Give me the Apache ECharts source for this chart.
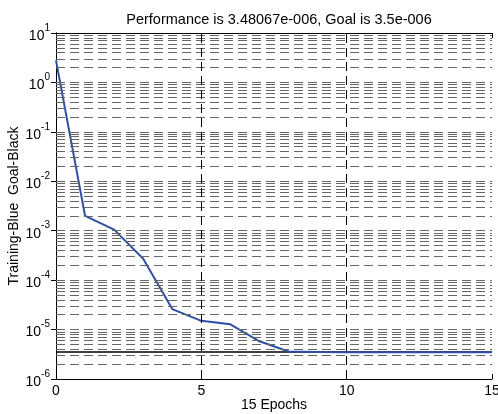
<!DOCTYPE html>
<html>
<head>
<meta charset="utf-8">
<script src="https://cdn.jsdelivr.net/npm/echarts@6/dist/echarts.min.js"></script>
<style>
    html, body { margin: 0; padding: 0; background: #fff; }
    #main { width: 498px; height: 414px; }
</style>
</head>
<body>
<div id="main"></div>
<script>
// data
let epochs = [0, 1, 2, 3, 4, 5, 6, 7, 8, 9, 10, 11, 12, 13, 14, 15];
let perf = [2.8, 2.0e-3, 1.05e-3, 2.7e-4, 2.6e-5, 1.5e-5, 1.28e-5, 5.8e-6, 3.6e-6, 3.5e-6, 3.49e-6, 3.49e-6, 3.485e-6, 3.483e-6, 3.482e-6, 3.48067e-6];
let goal = 3.5e-6;
let xTicks = [0, 5, 10, 15];
let yExponents = [-6, -5, -4, -3, -2, -1, 0, 1];

var chartDom = document.getElementById('main');
var myChart = echarts.init(chartDom);

// dashed grid at 1..9 x 10^k
let gridVals = [];
for (let e = -6; e < 1; e++) {
    for (let k = 1; k <= 9; k++) {
        let v = k * Math.pow(10, e);
        if (v > 1e-6) gridVals.push(v);
    }
}
let gridLines = gridVals.map(function (v) {
    return [{ coord: [0, v] }, { coord: [15, v] }];
});
let vLines = xTicks.slice(1, -1).map(function (x) {
    return { xAxis: x };
});

let font = 'Liberation Sans, Arial, sans-serif';
let line = { show: true, lineStyle: { color: '#000', width: 1 } };

let option = {
    animation: false,
    textStyle: { fontFamily: font },
    title: {
        text: 'Performance is 3.48067e-006, Goal is 3.5e-006',
        left: 274,
        top: 7,
        textAlign: 'center',
        textStyle: { fontSize: 14.5, fontWeight: 'normal', color: '#000', fontFamily: font }
    },
    grid: { left: 56, top: 33, right: 6, bottom: 35, outerBoundsMode: 'none', containLabel: false },
    xAxis: [{
        type: 'value',
        min: 0,
        max: 15,
        interval: 5,
        name: '15 Epochs',
        nameLocation: 'middle',
        nameGap: 19,
        nameMoveOverlap: false,
        nameTextStyle: { fontSize: 14, color: '#000' },
        axisLine: line,
        axisTick: { inside: true, length: 5, lineStyle: { color: '#000' } },
        axisLabel: { fontSize: 14, color: '#000', margin: 5 },
        splitLine: { show: false }
    }, {
        type: 'value',
        position: 'top',
        min: 0,
        max: 15,
        interval: 5,
        axisLine: line,
        axisTick: { inside: true, length: 5, lineStyle: { color: '#000' } },
        axisLabel: { show: false },
        splitLine: { show: false }
    }],
    yAxis: [{
        type: 'log',
        logBase: 10,
        min: 1e-6,
        max: 10,
        splitNumber: 7,
        name: 'Training-Blue  Goal-Black',
        nameLocation: 'middle',
        nameGap: 35,
        nameMoveOverlap: false,
        nameTextStyle: { fontSize: 14, color: '#000' },
        axisLine: line,
        axisTick: { inside: true, length: 5, lineStyle: { color: '#000' } },
        axisLabel: {
            margin: 6,
            formatter: function (v) {
                let e = Math.round(Math.log10(v));
                if (yExponents.indexOf(e) < 0) return '';
                return '{b|10}{s|' + e + '}';
            },
            rich: {
                b: { fontSize: 14, color: '#000', lineHeight: 20, verticalAlign: 'bottom', fontFamily: font },
                s: { fontSize: 10, color: '#000', verticalAlign: 'top', fontFamily: font }
            }
        },
        splitLine: { show: false }
    }, {
        type: 'log',
        logBase: 10,
        min: 1e-6,
        max: 10,
        splitNumber: 7,
        position: 'right',
        axisLine: line,
        axisTick: { inside: true, length: 5, lineStyle: { color: '#000' } },
        axisLabel: { show: false },
        splitLine: { show: false }
    }],
    series: [{
        name: 'grid',
        type: 'line',
        data: [],
        silent: true,
        markLine: {
            silent: true,
            symbol: 'none',
            label: { show: false },
            lineStyle: { color: '#666', width: 1, type: [9, 5] },
            data: gridLines
        }
    }, {
        name: 'vgrid',
        type: 'line',
        data: [],
        silent: true,
        markLine: {
            silent: true,
            symbol: 'none',
            label: { show: false },
            lineStyle: { color: '#000', width: 1, type: [9, 5] },
            data: vLines
        }
    }, {
        name: 'Goal',
        type: 'line',
        data: [[epochs[0], goal], [epochs[epochs.length - 1], goal]],
        symbol: 'none',
        lineStyle: { color: '#000', width: 1.5 },
        z: 3
    }, {
        name: 'Training',
        type: 'line',
        data: epochs.map(function (x, i) { return [x, perf[i]]; }),
        symbol: 'none',
        lineStyle: { color: '#2d4fa6', width: 2 },
        z: 4
    }]
};

option && myChart.setOption(option);
</script>
</body>
</html>
